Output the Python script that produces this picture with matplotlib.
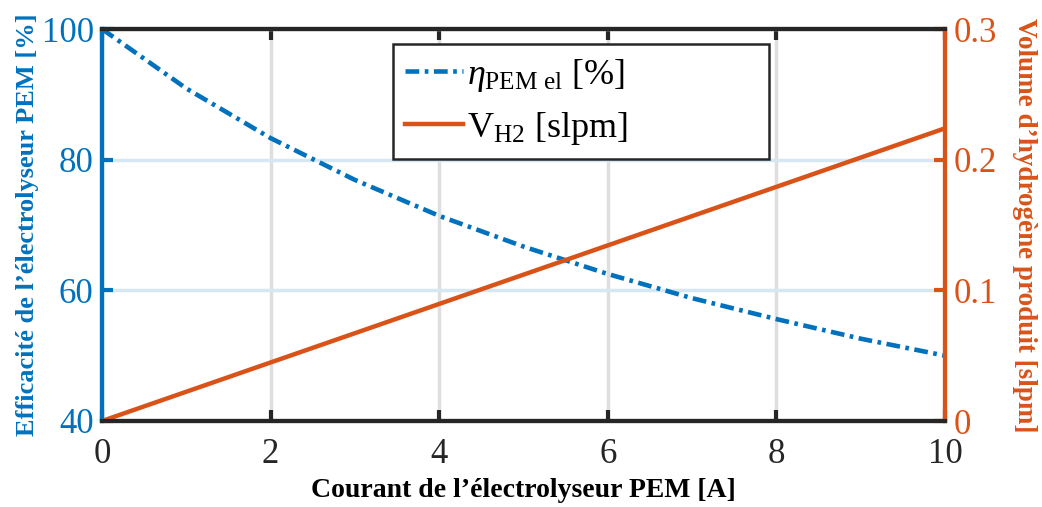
import matplotlib
import numpy as np

matplotlib.use("Agg")
import matplotlib.pyplot as plt

# Data
courant = [0, 1, 2, 3, 4, 5, 6, 7, 8, 9, 10]
efficacite = [100.0, 90.9, 83.3, 76.9, 71.4, 66.7, 62.5, 58.8, 55.6, 52.6, 50.0]
volume_h2 = [0.0, 0.0224, 0.0448, 0.0672, 0.0896, 0.112, 0.1344, 0.1568, 0.1792, 0.2016, 0.224]

x_ticks = [0, 2, 4, 6, 8, 10]
y_left_ticks = [40, 60, 80, 100]
y_right_ticks = [0, 0.1, 0.2, 0.3]
y_right_labels = ["0", "0.1", "0.2", "0.3"]

BLUE = "#0072BD"
ORANGE = "#D95319"
DARK = "#262626"

plt.rcParams["font.family"] = ["Liberation Serif", "DejaVu Serif"]
plt.rcParams["mathtext.fontset"] = "custom"
plt.rcParams["mathtext.rm"] = "Liberation Serif"
plt.rcParams["mathtext.it"] = "Liberation Serif:italic"
plt.rcParams["mathtext.bf"] = "Liberation Serif:bold"

fig = plt.figure(figsize=(10.42, 5.07), dpi=100)
ax = fig.add_axes([102 / 1042, 1 - 421 / 507, 843 / 1042, 392 / 507])
ax2 = ax.twinx()

(l1,) = ax.plot(courant, efficacite, color=BLUE, linestyle=(0, (3.0, 1.2, 0.8, 1.2)),
                linewidth=3.3, label=r"$\eta_{\mathrm{PEM\ el}}$ [%]")
(l2,) = ax2.plot(courant, volume_h2, color=ORANGE, linewidth=3.2,
                 label=r"V$_{\mathrm{H2}}$ [slpm]")

ax.set_xlim(0, 10)
ax.set_ylim(40, 100)
ax2.set_ylim(0, 0.3)
ax.set_xticks(x_ticks)
ax.set_yticks(y_left_ticks)
ax2.set_yticks(y_right_ticks)
ax2.set_yticklabels(y_right_labels)

# Grid: grey vertical, light blue horizontal
ax.grid(True, axis="x", color="#dedede", linewidth=2.5)
ax.grid(True, axis="y", color="#d6e7f4", linewidth=2.5)
ax.set_axisbelow(True)

for a in (ax, ax2):
    for side in ("top", "bottom", "left", "right"):
        a.spines[side].set_linewidth(3.0)
    a.spines["top"].set_color(DARK)
    a.spines["bottom"].set_color(DARK)
    a.spines["left"].set_color(BLUE)
    a.spines["right"].set_color(ORANGE)

ax.tick_params(axis="x", direction="in", length=8, width=3, color=DARK,
               labelsize=25, labelcolor=DARK, pad=12, top=True)
ax.tick_params(axis="y", direction="in", length=8, width=3, color=BLUE,
               labelsize=25, labelcolor=BLUE, pad=6)
ax2.tick_params(axis="y", direction="in", length=8, width=3, color=ORANGE,
                labelsize=25, labelcolor=ORANGE, pad=6)

ax.set_xlabel("Courant de l’électrolyseur PEM [A]", fontsize=20, fontweight="bold",
              color="black", labelpad=5)
ax.set_ylabel("Efficacité de l’électrolyseur PEM [%]", fontsize=19, fontweight="bold",
              color=BLUE, labelpad=2)
ax2.set_ylabel("Volume d’hydrogène produit [slpm]", fontsize=19.5, fontweight="bold",
               color=ORANGE, rotation=270, labelpad=29)

leg = ax2.legend(handles=[l1, l2], loc="upper left",
                 bbox_to_anchor=(0.345, 0.5, 0.446, 0.462), mode="expand",
                 fontsize=26, frameon=True, fancybox=False, framealpha=1,
                 edgecolor=DARK, handlelength=1.6, handletextpad=0.1,
                 labelspacing=0.45, borderpad=0.35, borderaxespad=0)
leg.get_frame().set_linewidth(1.8)

fig.savefig("out.png", dpi=100)
